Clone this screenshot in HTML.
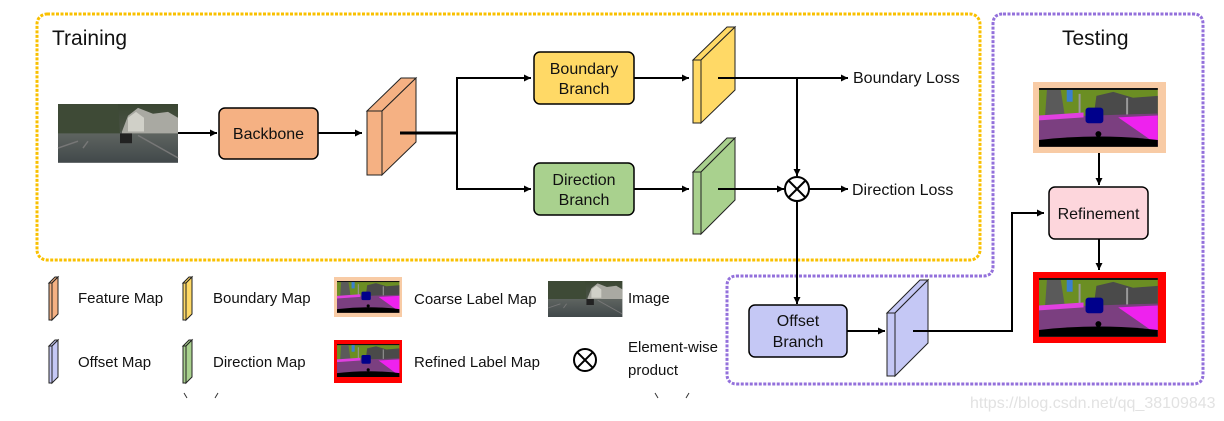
<!DOCTYPE html>
<html><head><meta charset="utf-8"><style>
html,body{margin:0;padding:0;background:#fff;width:1224px;height:421px;overflow:hidden}
text{font-family:"Liberation Sans",sans-serif;fill:#111}
</style></head><body>
<svg width="1224" height="421" viewBox="0 0 1224 421" xmlns="http://www.w3.org/2000/svg">
<defs>
<marker id="ar" viewBox="0 0 10 10" refX="10" refY="5" markerWidth="7" markerHeight="7" orient="auto-start-reverse" markerUnits="userSpaceOnUse"><path d="M0,0 L10,5 L0,10 z" fill="#000"/></marker>
<g id="lbl">
<rect x="0" y="0" width="120" height="60" fill="#6b8e23"/>
<rect x="0" y="0" width="120" height="2" fill="#111"/>
<path d="M8,2 L22,2 L26,28 L6,30z" fill="#5a5a5a"/>
<path d="M58,8 L75,4 L95,10 L120,8 L120,32 L55,30z" fill="#4a4a4a"/>
<rect x="28" y="2" width="6" height="12" fill="#3a7fd0"/>
<rect x="40" y="6" width="2" height="24" fill="#999"/>
<rect x="88" y="10" width="2" height="22" fill="#999"/>
<path d="M0,30 L120,26 L120,60 L0,60z" fill="#7b3f80"/>
<path d="M80,30 L120,28 L120,58z" fill="#ee22ee"/>
<path d="M0,28 L45,25 L45,30 L0,33z" fill="#e040e0"/>
<rect x="47" y="20" width="18" height="16" rx="3" fill="#00008b"/>
<path d="M0,53 Q60,46 120,53 L120,60 L0,60z" fill="#000"/>
<circle cx="60" cy="47" r="3" fill="#000"/>
</g>
<linearGradient id="ph" x1="0" y1="0" x2="0" y2="1">
<stop offset="0" stop-color="#3a4632"/><stop offset="0.45" stop-color="#4a5246"/><stop offset="0.5" stop-color="#5e6460"/><stop offset="1" stop-color="#41484a"/></linearGradient>
<g id="photo">
<rect width="120" height="60" fill="url(#ph)"/>
<path d="M0,0 L60,0 L62,30 L0,30z" fill="#3e4a36"/>
<path d="M64,28 L70,12 L80,4 L95,10 L110,8 L120,14 L120,30 L64,30z" fill="#a9a9a2"/>
<path d="M70,28 L70,14 L78,8 L86,14 L86,28z" fill="#d0d0c8"/>
<rect x="62" y="30" width="12" height="10" fill="#222"/>
<path d="M0,45 L20,38 M25,45 L30,38 M80,32 L120,55" stroke="#777" stroke-width="1.5"/>
</g>
</defs>

<rect x="37" y="14" width="943" height="246" rx="10" fill="none" stroke="#f9c000" stroke-width="3" stroke-dasharray="3,1.5"/>
<path d="M1003,14 L1193,14 Q1203,14 1203,24 L1203,374 Q1203,384 1193,384 L737,384 Q727,384 727,374 L727,286 Q727,276 737,276 L983,276 Q993,276 993,266 L993,24 Q993,14 1003,14z" fill="none" stroke="#9370db" stroke-width="3" stroke-dasharray="3,1.5"/>

<text x="52" y="45" font-size="21">Training</text>
<text x="1062" y="45" font-size="21">Testing</text>

<use href="#photo" transform="translate(58,104) scale(1,0.98)"/>
<line x1="178" y1="133" x2="217" y2="133" stroke="#000" stroke-width="2" marker-end="url(#ar)"/>
<rect x="219" y="108" width="99" height="51" rx="6" fill="#f5b183" stroke="#000" stroke-width="1.5"/>
<text x="268.5" y="139" font-size="16" text-anchor="middle">Backbone</text>
<line x1="318" y1="133" x2="362" y2="133" stroke="#000" stroke-width="2" marker-end="url(#ar)"/>

<g stroke="#222" stroke-width="1" fill="#f5b183">
<path d="M367,111 L382,111 L416,78 L401,78z"/>
<path d="M382,111 L416,78 L416,142 L382,175z"/>
<rect x="367" y="111" width="15" height="64"/>
</g>
<path d="M400,133 L457,133" stroke="#000" stroke-width="3"/>
<path d="M457,133 L457,78 L530,78 M457,133 L457,189 L530,189" fill="none" stroke="#000" stroke-width="2"/>
<line x1="520" y1="78" x2="531" y2="78" stroke="#000" stroke-width="2" marker-end="url(#ar)"/>
<line x1="520" y1="189" x2="531" y2="189" stroke="#000" stroke-width="2" marker-end="url(#ar)"/>

<rect x="534" y="52" width="100" height="52" rx="6" fill="#ffd966" stroke="#000" stroke-width="1.5"/>
<text x="584" y="74" font-size="16" text-anchor="middle">Boundary</text>
<text x="584" y="94" font-size="16" text-anchor="middle">Branch</text>
<rect x="534" y="163" width="100" height="52" rx="6" fill="#a9d18e" stroke="#000" stroke-width="1.5"/>
<text x="584" y="185" font-size="16" text-anchor="middle">Direction</text>
<text x="584" y="205" font-size="16" text-anchor="middle">Branch</text>

<line x1="634" y1="78" x2="689" y2="78" stroke="#000" stroke-width="2" marker-end="url(#ar)"/>
<line x1="634" y1="189" x2="689" y2="189" stroke="#000" stroke-width="2" marker-end="url(#ar)"/>

<g stroke="#222" stroke-width="1" fill="#ffd966">
<path d="M693,60 L701,60 L735,27 L727,27z"/>
<path d="M701,60 L735,27 L735,90 L701,123z"/>
<rect x="693" y="60" width="8" height="63"/>
</g>
<g stroke="#222" stroke-width="1" fill="#a9d18e">
<path d="M693,172 L701,172 L735,138 L727,138z"/>
<path d="M701,172 L735,138 L735,200 L701,234z"/>
<rect x="693" y="172" width="8" height="62"/>
</g>

<line x1="718" y1="78" x2="848" y2="78" stroke="#000" stroke-width="2" marker-end="url(#ar)"/>
<text x="853" y="83" font-size="16">Boundary Loss</text>
<line x1="797" y1="78" x2="797" y2="176" stroke="#000" stroke-width="2" marker-end="url(#ar)"/>
<line x1="718" y1="189" x2="784" y2="189" stroke="#000" stroke-width="2" marker-end="url(#ar)"/>
<circle cx="797" cy="189" r="12" fill="#fff" stroke="#000" stroke-width="2"/>
<path d="M788.5,180.5 L805.5,197.5 M805.5,180.5 L788.5,197.5" stroke="#000" stroke-width="2"/>
<line x1="809" y1="189" x2="848" y2="189" stroke="#000" stroke-width="2" marker-end="url(#ar)"/>
<text x="852" y="195" font-size="16">Direction Loss</text>
<line x1="797" y1="201" x2="797" y2="304" stroke="#000" stroke-width="2" marker-end="url(#ar)"/>

<rect x="749" y="305" width="98" height="52" rx="6" fill="#c5c8f5" stroke="#000" stroke-width="1.5"/>
<text x="798" y="326" font-size="16" text-anchor="middle">Offset</text>
<text x="798" y="347" font-size="16" text-anchor="middle">Branch</text>
<line x1="847" y1="331" x2="885" y2="331" stroke="#000" stroke-width="2" marker-end="url(#ar)"/>
<g stroke="#222" stroke-width="1" fill="#c5c8f5">
<path d="M887,313 L895,313 L928,280 L920,280z"/>
<path d="M895,313 L928,280 L928,343 L895,376z"/>
<rect x="887" y="313" width="8" height="63"/>
</g>
<path d="M913,331 L1012,331 L1012,213 L1044,213" fill="none" stroke="#000" stroke-width="2" marker-end="url(#ar)"/>

<rect x="1035.5" y="84.5" width="128" height="66" fill="#f8cba5" stroke="#f8cba5" stroke-width="5"/>
<use href="#lbl" transform="translate(1039,88) scale(0.99,0.98)"/>
<line x1="1099" y1="153" x2="1099" y2="185" stroke="#000" stroke-width="2" marker-end="url(#ar)"/>
<rect x="1049" y="187" width="99" height="52" rx="6" fill="#fdd6dc" stroke="#000" stroke-width="1.5"/>
<text x="1098.5" y="219" font-size="16" text-anchor="middle">Refinement</text>
<line x1="1099" y1="239" x2="1099" y2="270" stroke="#000" stroke-width="2" marker-end="url(#ar)"/>
<rect x="1035.5" y="274.5" width="128" height="66" fill="#f00" stroke="#f00" stroke-width="5"/>
<use href="#lbl" transform="translate(1039,278) scale(0.99,0.98)"/>

<g stroke="#222" stroke-width="1">
<g fill="#f5b183"><path d="M49,283 L52,283 L58,277 L55,277z"/><path d="M52,283 L58,277 L58,314 L52,320z"/><rect x="49" y="283" width="3" height="37"/></g>
<g fill="#ffd966"><path d="M183,283 L186,283 L192,277 L189,277z"/><path d="M186,283 L192,277 L192,314 L186,320z"/><rect x="183" y="283" width="3" height="37"/></g>
<g fill="#c5c8f5"><path d="M49,346 L52,346 L58,340 L55,340z"/><path d="M52,346 L58,340 L58,377 L52,383z"/><rect x="49" y="346" width="3" height="37"/></g>
<g fill="#a9d18e"><path d="M183,346 L186,346 L192,340 L189,340z"/><path d="M186,346 L192,340 L192,377 L186,383z"/><rect x="183" y="346" width="3" height="37"/></g>
</g>
<text x="78" y="303" font-size="15">Feature Map</text>
<text x="213" y="303" font-size="15">Boundary Map</text>
<text x="414" y="304" font-size="15">Coarse Label Map</text>
<text x="628" y="303" font-size="15">Image</text>
<text x="78" y="367" font-size="15">Offset Map</text>
<text x="213" y="367" font-size="15">Direction Map</text>
<text x="414" y="367" font-size="15">Refined Label Map</text>
<text x="628" y="352" font-size="15">Element-wise</text>
<text x="628" y="375" font-size="15">product</text>

<rect x="334" y="277" width="68" height="40" fill="#f8cba5"/>
<use href="#lbl" transform="translate(337,281) scale(0.52,0.53)"/>
<rect x="334" y="340" width="68" height="43" fill="#f00"/>
<use href="#lbl" transform="translate(337,344) scale(0.52,0.55)"/>
<use href="#photo" transform="translate(548,281) scale(0.62,0.6)"/>
<circle cx="585" cy="360" r="11" fill="#fff" stroke="#000" stroke-width="2"/>
<path d="M577.2,352.2 L592.8,367.8 M592.8,352.2 L577.2,367.8" stroke="#000" stroke-width="2"/>

<path d="M184,393 L187,398 M215,398 L218,393 M655,393 L658,398 M686,398 L689,393" stroke="#333" stroke-width="1"/>
<text x="970" y="408" font-size="16" style="fill:#e2e2e2">https://blog.csdn.net/qq_38109843</text>
</svg>
</body></html>
